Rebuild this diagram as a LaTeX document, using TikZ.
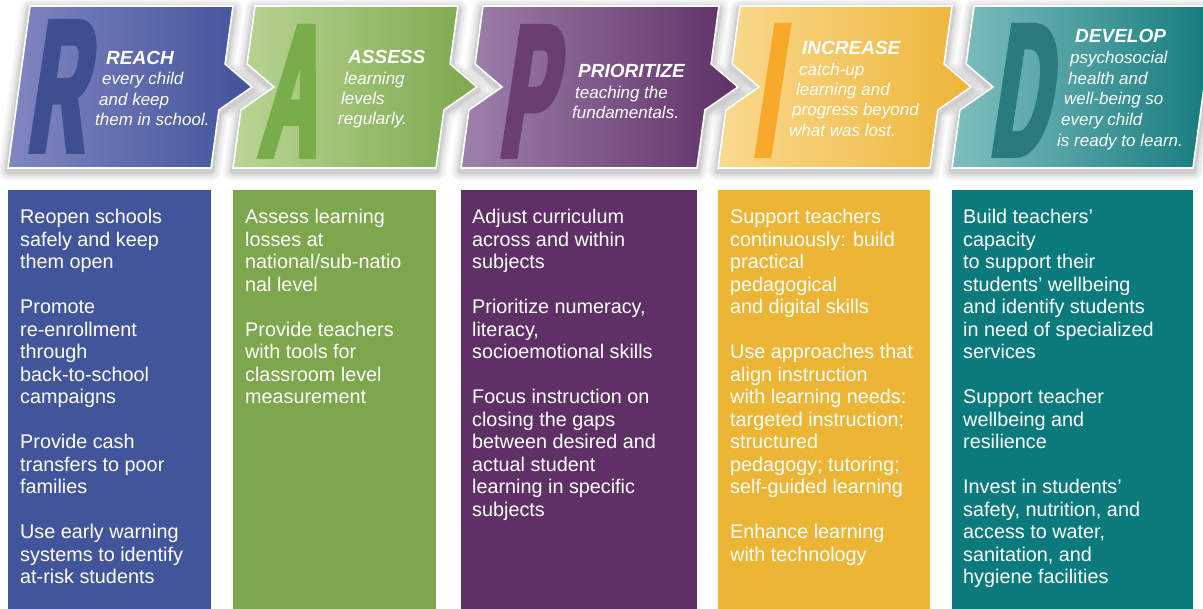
\documentclass[tikz,border=0pt]{standalone}
\usepackage{fontspec}
\setmainfont{Liberation Sans}
\newfontfamily\bigfont[FakeStretch=0.42,FakeSlant=0.15,FakeBold=3]{Liberation Sans Bold}
\definecolor{cAl}{HTML}{8186C2}\definecolor{cAr}{HTML}{41539A}\definecolor{cAc}{HTML}{42559A}\definecolor{cAt}{HTML}{3D4E91}
\definecolor{cBl}{HTML}{BAD595}\definecolor{cBr}{HTML}{7CA84D}\definecolor{cBc}{HTML}{7EA64C}\definecolor{cBt}{HTML}{78AD4A}
\definecolor{cCl}{HTML}{9E81AA}\definecolor{cCr}{HTML}{5F3067}\definecolor{cCc}{HTML}{5F3066}\definecolor{cCt}{HTML}{6A3F70}
\definecolor{cDl}{HTML}{FAD98F}\definecolor{cDr}{HTML}{ECB537}\definecolor{cDc}{HTML}{ECB536}\definecolor{cDt}{HTML}{F8A92A}
\definecolor{cEl}{HTML}{80BFC0}\definecolor{cEr}{HTML}{137A7C}\definecolor{cEc}{HTML}{0B7A7C}\definecolor{cEt}{HTML}{2A7B7E}
\tikzset{
  head/.style={anchor=base west, inner sep=0pt, text=white, font=\fontsize{19}{19}\selectfont\bfseries\itshape},
  sub/.style={anchor=base west, inner sep=0pt, text=white, font=\fontsize{17}{17}\selectfont\itshape},
  body/.style={anchor=north west, inner sep=0pt, text=white, align=left, font=\fontsize{19.8}{22.5}\selectfont},
  bigl/.style={anchor=base west, inner sep=0pt, font=\fontsize{188}{188}\bigfont},
}
% #1 bottom-left x, #2 bottom-right x, #3 tip depth, #4 notch depth
\newcommand\chevshadow[4]{%
  \foreach \w/\o in {20/0.035,15/0.045,10/0.055,6/0.07}{%
    \draw[line width=\w pt, black, opacity=\o, line join=round, yshift=-3pt]
      ({#1+22},6) -- ({#2+22},6) -- ({#2+14.1},64) -- ({#2+11+#3},87) -- ({#2+7.9},110) -- (#2,168)
      -- (#1,168) -- ({#1+7.9},110) -- ({#1+11+#4},87) -- ({#1+14.1},64) -- cycle;}}
\newcommand\chevfill[6]{%
  \path[left color=#5, right color=#6, draw=white, line width=1.6pt, line join=miter]
      ({#1+22},6) -- ({#2+22},6) -- ({#2+14.1},64) -- ({#2+11+#3},87) -- ({#2+7.9},110) -- (#2,168)
      -- (#1,168) -- ({#1+7.9},110) -- ({#1+11+#4},87) -- ({#1+14.1},64) -- cycle;}
\begin{document}
\begin{tikzpicture}[x=1pt,y=-1pt]
\path[use as bounding box] (0,0) rectangle (1203,609);
\clip (0,0) rectangle (1203,609);
\fill[white] (0,0) rectangle (1203,609);
% shadows
\chevshadow{8}{211}{30}{0}
\chevshadow{233}{436}{30}{30}
\chevshadow{461}{697}{30}{30}
\chevshadow{718}{930}{30}{30}
\chevshadow{952}{1193}{0}{30}
% columns
\fill[cAc] (8,190) rectangle (211,609);
\fill[cBc] (233,190) rectangle (436,609);
\fill[cCc] (461,190) rectangle (697,609);
\fill[cDc] (718,190) rectangle (930,609);
\fill[cEc] (952,190) rectangle (1193,609);
% chevrons
\chevfill{8}{211}{30}{0}{cAl}{cAr}
\chevfill{233}{436}{30}{30}{cBl}{cBr}
\chevfill{461}{697}{30}{30}{cCl}{cCr}
\chevfill{718}{930}{30}{30}{cDl}{cDr}
\chevfill{952}{1193}{0}{30}{cEl}{cEr}
% big letters
\node[bigl, text=cAt] (bigR) at (26,151) {R};
\node[bigl, text=cBt] (bigA) at (258,156) {A};
\node[bigl, text=cCt] (bigP) at (498,156) {P};
\node[bigl, text=cDt] (bigI) at (752,155) {I};
\node[bigl, text=cEt] (bigD) at (989,155) {D};
% headings
\node[head] (hR) at (106,65) {REACH};
\node[sub] (sR1) at (102,85) {every child};
\node[sub] (sR2) at (99,105.5) {and keep};
\node[sub] (sR3) at (95,126) {them in school.};
\node[head] (hA) at (348,64) {ASSESS};
\node[sub] (sA1) at (344,85) {learning};
\node[sub] (sA2) at (341,105) {levels};
\node[sub] (sA3) at (338,125) {regularly.};
\node[head] (hP) at (578,78) {PRIORITIZE};
\node[sub] (sP1) at (575,98.5) {teaching the};
\node[sub] (sP2) at (572,119) {fundamentals.};
\node[head] (hI) at (802,55) {INCREASE};
\node[sub] (sI1) at (799,75.5) {catch-up};
\node[sub] (sI2) at (796,96) {learning and};
\node[sub] (sI3) at (792,116) {progress beyond};
\node[sub] (sI4) at (789,136.5) {what was lost.};
\node[head] (hD) at (1075,43) {DEVELOP};
\node[sub] (sD1) at (1070,64) {psychosocial};
\node[sub] (sD2) at (1068,85) {health and};
\node[sub] (sD3) at (1064,105) {well-being so};
\node[sub] (sD4) at (1061,125.5) {every child};
\node[sub] (sD5) at (1057,146.5) {is ready to learn.};
% column texts
\node[body] (tR) at (20,209) {Reopen schools\\safely and keep\\them open\\[22.5pt]Promote\\re-enrollment\\through\\back-to-school\\campaigns\\[22.5pt]Provide cash\\transfers to poor\\families\\[22.5pt]Use early warning\\systems to identify\\at-risk students};
\node[body] (tA) at (245,209) {Assess learning\\losses at\\national/sub-natio\\nal level\\[22.5pt]Provide teachers\\with tools for\\classroom level\\measurement};
\node[body] (tP) at (472,209) {Adjust curriculum\\across and within\\subjects\\[22.5pt]Prioritize numeracy,\\literacy,\\socioemotional skills\\[22.5pt]Focus instruction on\\closing the gaps\\between desired and\\actual student\\learning in specific\\subjects};
\node[body] (tI) at (730,209) {Support teachers\\continuously: build\\practical\\pedagogical\\and digital skills\\[22.5pt]Use approaches that\\align instruction\\with learning needs:\\targeted instruction;\\structured\\pedagogy; tutoring;\\self-guided learning\\[22.5pt]Enhance learning\\with technology};
\node[body] (tD) at (963,209) {Build teachers’\\capacity\\to support their\\students’ wellbeing\\and identify students\\in need of specialized\\services\\[22.5pt]Support teacher\\wellbeing and\\resilience\\[22.5pt]Invest in students’\\safety, nutrition, and\\access to water,\\sanitation, and\\hygiene facilities};
\end{tikzpicture}
\end{document}
